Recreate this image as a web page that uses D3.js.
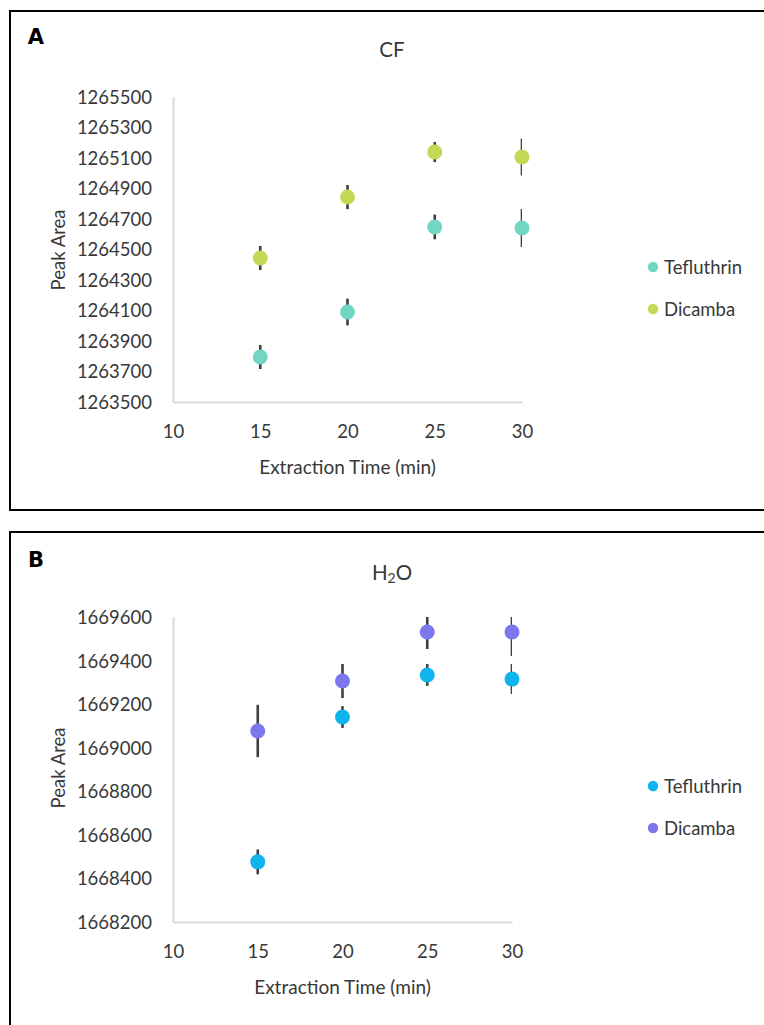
<!DOCTYPE html>
<html>
<head>
<meta charset="utf-8">
<script src="https://cdn.jsdelivr.net/npm/d3@7"></script>
<style>
  html, body { margin: 0; padding: 0; background: #ffffff; }
  svg { display: block; font-family: Lato, "Open Sans", sans-serif; }
</style>
</head>
<body>
<svg id="chart" width="764" height="1025"></svg>
<script>
// Extraction times (min) and axis ticks
const extractionTimes = [15, 20, 25, 30];
const xTicks = [10, 15, 20, 25, 30];

// Panel A: CF peak areas with error (±)
const cfTefluthrin    = [1263795, 1264090, 1264648, 1264641];
const cfTefluthrinErr = [79, 88, 81, 125];
const cfDicamba       = [1264444, 1264844, 1265139, 1265107];
const cfDicambaErr    = [79, 79, 66, 121];
const cfYTicks = [1263500, 1263700, 1263900, 1264100, 1264300, 1264500,
                  1264700, 1264900, 1265100, 1265300, 1265500];

// Panel B: H2O peak areas with error (±)
const waterTefluthrin    = [1668476, 1669141, 1669334, 1669315];
const waterTefluthrinErr = [57, 50, 50, 69];
const waterDicamba       = [1669077, 1669306, 1669531, 1669531];
const waterDicambaErr    = [120, 78, 78, 110];
const waterYTicks = [1668200, 1668400, 1668600, 1668800, 1669000,
                     1669200, 1669400, 1669600];

const seriesNames = ["Tefluthrin", "Dicamba"];

const svg = d3.select("#chart");
const textColor = "#383838";

function drawPanel(cfg) {
  const g = svg.append("g");

  // frame
  g.append("rect")
    .attr("x", cfg.frame[0]).attr("y", cfg.frame[1])
    .attr("width", cfg.frame[2]).attr("height", cfg.frame[3])
    .attr("fill", "none").attr("stroke", "#000").attr("stroke-width", 2);

  // panel letter
  g.append("text")
    .attr("x", cfg.frame[0] + 26).attr("y", cfg.letterY)
    .attr("text-anchor", "middle").attr("dominant-baseline", "central")
    .attr("font-family", "'DejaVu Sans', sans-serif")
    .attr("font-weight", "bold").attr("font-size", 21)
    .attr("fill", "#000").text(cfg.letter);

  const x = d3.scaleLinear().domain([10, 30]).range([cfg.left, cfg.right]);
  const y = d3.scaleLinear().domain(d3.extent(cfg.yTicks)).range([cfg.bottom, cfg.top]);

  // title
  const title = g.append("text")
    .attr("x", 392).attr("y", cfg.titleY)
    .attr("text-anchor", "middle").attr("dominant-baseline", "central")
    .attr("font-size", 20.5).attr("fill", textColor);
  cfg.title.forEach(part => {
    const t = title.append("tspan").text(part.text);
    if (part.sub) t.attr("font-size", 14).attr("dy", 5);
    else if (part.after) t.attr("dy", -5);
  });

  // axes
  const yAxis = g.append("g")
    .attr("transform", `translate(${cfg.left},0)`)
    .call(d3.axisLeft(y).tickValues(cfg.yTicks).tickFormat(d3.format("d"))
      .tickSize(0).tickSizeOuter(0));
  const xAxis = g.append("g")
    .attr("transform", `translate(0,${cfg.bottom})`)
    .call(d3.axisBottom(x).tickValues(xTicks).tickFormat(d3.format("d"))
      .tickSize(0).tickSizeOuter(0));

  [yAxis, xAxis].forEach(a => {
    a.select(".domain").attr("stroke", "#d9d9d9").attr("stroke-width", 2);
    a.selectAll("text")
      .attr("font-family", "Lato, sans-serif")
      .attr("font-size", 18.5).attr("fill", textColor);
  });
  yAxis.selectAll("text").attr("x", -21).attr("dy", "0.35em");
  xAxis.selectAll("text").attr("y", 30).attr("dy", "0.35em");

  // axis titles
  g.append("text")
    .attr("x", (cfg.left + cfg.right) / 2).attr("y", cfg.bottom + 64)
    .attr("text-anchor", "middle").attr("dominant-baseline", "central")
    .attr("font-size", 19).attr("fill", textColor)
    .text("Extraction Time (min)");
  g.append("text")
    .attr("transform", `translate(58,${cfg.yTitleY}) rotate(-90)`)
    .attr("text-anchor", "middle").attr("dominant-baseline", "central")
    .attr("font-size", 18.5).attr("fill", textColor)
    .text("Peak Area");

  // clip error bars to plot area
  const clipId = "clip-" + cfg.letter;
  g.append("clipPath").attr("id", clipId).append("rect")
    .attr("x", cfg.left).attr("y", cfg.top)
    .attr("width", cfg.right - cfg.left).attr("height", cfg.bottom - cfg.top);

  cfg.series.forEach(s => {
    const pts = extractionTimes.map((t, i) => ({ t, v: s.values[i], e: s.errors[i] }));
    g.append("g").attr("clip-path", `url(#${clipId})`)
      .selectAll("line").data(pts).join("line")
      .attr("x1", d => x(d.t)).attr("x2", d => x(d.t))
      .attr("y1", d => y(d.v + d.e)).attr("y2", d => y(d.v - d.e))
      .attr("stroke", "#3f3f3f").attr("stroke-width", 2.6);
    g.append("g").selectAll("circle").data(pts).join("circle")
      .attr("cx", d => x(d.t)).attr("cy", d => y(d.v))
      .attr("r", 7.5).attr("fill", s.color);
  });

  // legend
  cfg.series.forEach((s, i) => {
    const ly = cfg.legendY[i];
    g.append("circle").attr("cx", 653).attr("cy", ly).attr("r", 5.2).attr("fill", s.color);
    g.append("text").attr("x", 664).attr("y", ly)
      .attr("dominant-baseline", "central")
      .attr("font-size", 18.5).attr("fill", textColor).text(s.name);
  });
}

drawPanel({
  letter: "A", letterY: 37,
  frame: [10, 11, 762, 499],
  left: 173, right: 522, top: 97, bottom: 402,
  yTicks: cfYTicks,
  title: [{ text: "CF" }], titleY: 49,
  yTitleY: 250,
  legendY: [267, 309],
  series: [
    { name: seriesNames[0], values: cfTefluthrin, errors: cfTefluthrinErr, color: "#72d6c5" },
    { name: seriesNames[1], values: cfDicamba, errors: cfDicambaErr, color: "#c3d953" }
  ]
});

drawPanel({
  letter: "B", letterY: 560,
  frame: [10, 532, 762, 520],
  left: 173, right: 512, top: 617, bottom: 922,
  yTicks: waterYTicks,
  title: [{ text: "H" }, { text: "2", sub: true }, { text: "O", after: true }], titleY: 572,
  yTitleY: 768,
  legendY: [786, 828],
  series: [
    { name: seriesNames[0], values: waterTefluthrin, errors: waterTefluthrinErr, color: "#0fb3ee" },
    { name: seriesNames[1], values: waterDicamba, errors: waterDicambaErr, color: "#7d77ee" }
  ]
});
</script>
</body>
</html>
